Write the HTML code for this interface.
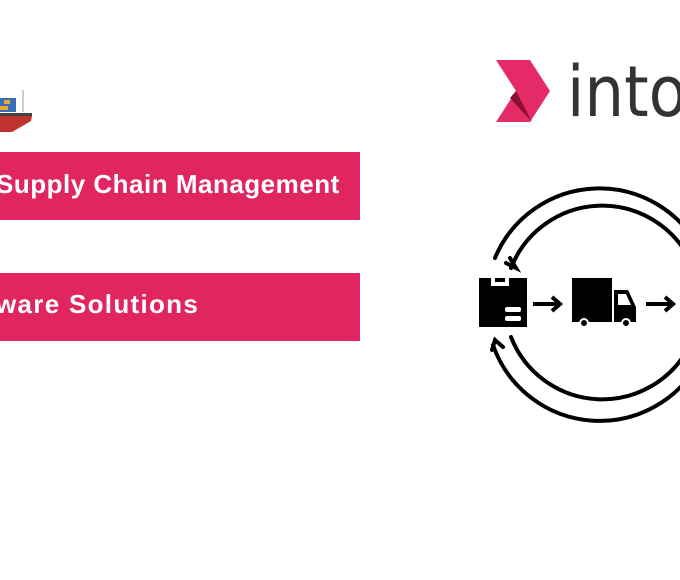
<!DOCTYPE html>
<html><head><style>
body{margin:0;width:680px;height:580px;background:#fff;position:relative;overflow:hidden;font-family:"Liberation Sans",sans-serif}
.b{position:absolute;left:0;width:360px;height:68px;background:#e12561;color:#fff;font-weight:bold;font-size:26px;letter-spacing:0.5px;line-height:68px;white-space:nowrap}
</style></head><body>
<div class="b" style="top:152px"><span style="position:absolute;left:-4px;top:-2px">Supply Chain Management</span></div>
<div class="b" style="top:273px"><span style="position:absolute;left:-4px;top:-3px;letter-spacing:1.3px">ware Solutions</span></div>
<svg width="680" height="580" style="position:absolute;left:0;top:0">
 <rect x="0" y="98" width="16" height="14" fill="#3b6fb5"/>
 <rect x="4" y="100" width="6" height="4" fill="#e8a93a"/>
 <rect x="0" y="106" width="8" height="4" fill="#e8a93a"/>
 <line x1="23" y1="90" x2="23" y2="112" stroke="#999" stroke-width="1"/>
 <rect x="0" y="113" width="32" height="3" fill="#444"/>
 <polygon points="0,116 32,116 31,121 12,132 0,132" fill="#c0322f"/>
 <polygon points="496,60 530,60 550,91 530,122 496,122 516,91" fill="#e52a68"/>
 <polygon points="510,98 516,91 532,122" fill="#8b1030"/>
 <text x="567" y="116" font-size="70" fill="#333" font-family="DejaVu Sans" font-weight="normal" textLength="120" lengthAdjust="spacingAndGlyphs">into</text>
 <g fill="none" stroke="#000" stroke-width="4" stroke-linecap="round">
  <path d="M495,258 A113,113 0 0 1 700,250"/>
  <path d="M511,268 A98,98 0 0 1 690,260"/>
  <path d="M493,345 A113,113 0 0 0 700,360"/>
  <path d="M511,337 A98,98 0 0 0 690,345"/>
  <path d="M506,263 L516,268 L510,258"/>
  <path d="M492,350 L495,340 L503,347"/>
 </g>
 <rect x="479" y="278" width="48" height="49" fill="#000"/>
 <rect x="491" y="278" width="18" height="8" fill="#fff"/>
 <rect x="495" y="278" width="10" height="4" fill="#000"/>
 <rect x="505" y="307" width="16" height="5" rx="2" fill="#fff"/>
 <rect x="505" y="316" width="16" height="5" rx="2" fill="#fff"/>
 <g stroke="#000" stroke-width="4" fill="none"><line x1="533" y1="304" x2="560" y2="304"/><path d="M552,297 L560,304 L552,311"/>
 <line x1="646" y1="304" x2="673" y2="304"/><path d="M665,297 L673,304 L665,311"/></g>
 <rect x="572" y="278" width="40" height="44" fill="#000"/>
 <polygon points="614,290 628,290 636,307 636,322 614,322" fill="#000"/>
 <polygon points="618,294 626,294 631,305 618,305" fill="#fff"/>
 <circle cx="584" cy="323" r="4" fill="#000" stroke="#fff" stroke-width="2"/>
 <circle cx="626" cy="323" r="4" fill="#000" stroke="#fff" stroke-width="2"/>
</svg>
</body></html>
